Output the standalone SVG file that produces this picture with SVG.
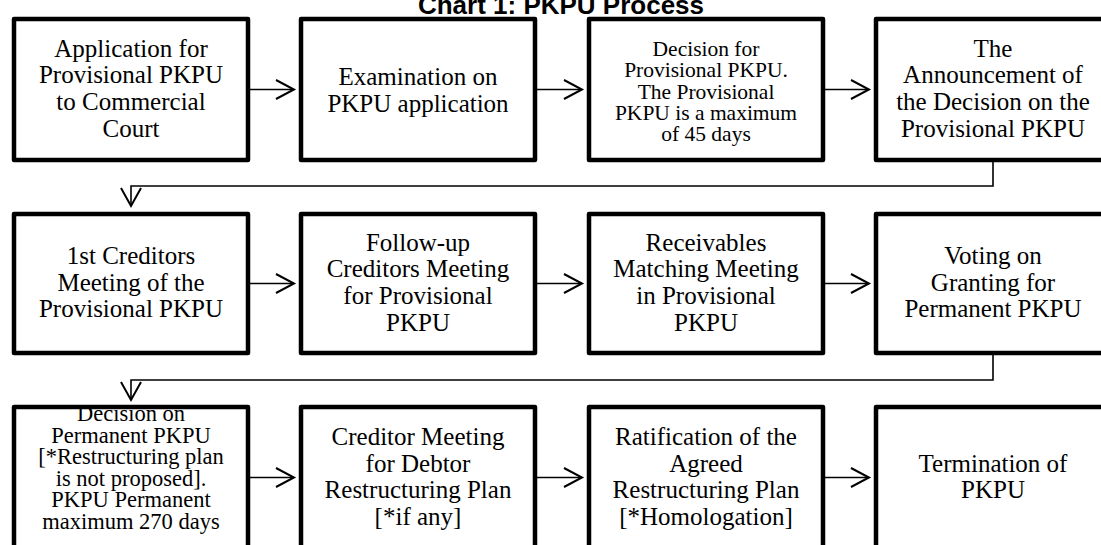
<svg xmlns="http://www.w3.org/2000/svg" width="1101" height="545" viewBox="0 0 1101 545">
<style>
.box{fill:none;stroke:#000;stroke-width:4.5;stroke-linejoin:round}
.t{font-family:"Liberation Serif","Times New Roman",serif;font-size:25px;fill:#000;text-anchor:middle}
.s{font-size:21.5px}
.m{font-size:22.5px}
.c{fill:none;stroke:#000;stroke-width:1.6}
.ah{fill:none;stroke:#000;stroke-width:2;stroke-linejoin:miter}
.title{font-family:"Liberation Sans",Arial,sans-serif;font-weight:bold;font-size:26px;text-anchor:middle;fill:#000}
</style>
<rect width="1101" height="545" fill="#fff"/>
<text class="title" x="561" y="14">Chart 1: PKPU Process</text>
<g id="connectors">
<path class="c" d="M250,89.5H292"/><path class="ah" d="M276,80L294,89.5L276,99"/>
<path class="c" d="M537,89.5H580"/><path class="ah" d="M564,80L582,89.5L564,99"/>
<path class="c" d="M825,89.5H867"/><path class="ah" d="M851,80L869,89.5L851,99"/>
<path class="c" d="M993,162V186H131V205"/><path class="ah" d="M121,188L131,206L141,188"/>
<path class="c" d="M250,283.5H292"/><path class="ah" d="M276,274L294,283.5L276,293"/>
<path class="c" d="M537,283.5H580"/><path class="ah" d="M564,274L582,283.5L564,293"/>
<path class="c" d="M825,283.5H867"/><path class="ah" d="M851,274L869,283.5L851,293"/>
<path class="c" d="M993,355V380H131V399"/><path class="ah" d="M121,382L131,400L141,382"/>
<path class="c" d="M250,477.5H292"/><path class="ah" d="M276,468L294,477.5L276,487"/>
<path class="c" d="M537,477.5H580"/><path class="ah" d="M564,468L582,477.5L564,487"/>
<path class="c" d="M825,477.5H867"/><path class="ah" d="M851,468L869,477.5L851,487"/>
</g>
<g id="n1">
<text class="t" x="131" y="56.5">Application for</text><text class="t" x="131" y="83.2">Provisional PKPU</text><text class="t" x="131" y="109.9">to Commercial</text><text class="t" x="131" y="136.6">Court</text><rect class="box" x="14" y="19" width="234" height="141"/></g>
<g id="n2">
<text class="t" x="418" y="85">Examination on</text><text class="t" x="418" y="111.5">PKPU application</text><rect class="box" x="301" y="19" width="234" height="141"/></g>
<g id="n3">
<text class="t s" x="706" y="56">Decision for</text><text class="t s" x="706" y="77.3">Provisional PKPU.</text><text class="t s" x="706" y="98.6">The Provisional</text><text class="t s" x="706" y="119.9">PKPU is a maximum</text><text class="t s" x="706" y="141.2">of 45 days</text><rect class="box" x="589" y="19" width="234" height="141"/></g>
<g id="n4">
<text class="t" x="993" y="56.5">The</text><text class="t" x="993" y="83.2">Announcement of</text><text class="t" x="993" y="109.9">the Decision on the</text><text class="t" x="993" y="136.6">Provisional PKPU</text><rect class="box" x="876" y="19" width="234" height="141"/></g>
<g id="n5">
<text class="t" x="131" y="263.8">1st Creditors</text><text class="t" x="131" y="290.5">Meeting of the</text><text class="t" x="131" y="317.2">Provisional PKPU</text><rect class="box" x="14" y="214" width="234" height="139"/></g>
<g id="n6">
<text class="t" x="418" y="250.5">Follow-up</text><text class="t" x="418" y="277.2">Creditors Meeting</text><text class="t" x="418" y="303.9">for Provisional</text><text class="t" x="418" y="330.6">PKPU</text><rect class="box" x="301" y="214" width="234" height="139"/></g>
<g id="n7">
<text class="t" x="706" y="250.5">Receivables</text><text class="t" x="706" y="277.2">Matching Meeting</text><text class="t" x="706" y="303.9">in Provisional</text><text class="t" x="706" y="330.6">PKPU</text><rect class="box" x="589" y="214" width="234" height="139"/></g>
<g id="n8">
<text class="t" x="993" y="263.8">Voting on</text><text class="t" x="993" y="290.5">Granting for</text><text class="t" x="993" y="317.2">Permanent PKPU</text><rect class="box" x="876" y="214" width="234" height="139"/></g>
<g id="n9">
<text class="t m" x="131" y="421">Decision on</text><text class="t m" x="131" y="442.5">Permanent PKPU</text><text class="t m" x="131" y="464">[*Restructuring plan</text><text class="t m" x="131" y="485.5">is not proposed].</text><text class="t m" x="131" y="507">PKPU Permanent</text><text class="t m" x="131" y="528.5">maximum 270 days</text><rect class="box" x="14" y="407" width="234" height="160"/></g>
<g id="n10">
<text class="t" x="418" y="445">Creditor Meeting</text><text class="t" x="418" y="471.7">for Debtor</text><text class="t" x="418" y="498.3">Restructuring Plan</text><text class="t" x="418" y="525">[*if any]</text><rect class="box" x="301" y="407" width="234" height="160"/></g>
<g id="n11">
<text class="t" x="706" y="445">Ratification of the</text><text class="t" x="706" y="471.7">Agreed</text><text class="t" x="706" y="498.3">Restructuring Plan</text><text class="t" x="706" y="525">[*Homologation]</text><rect class="box" x="589" y="407" width="234" height="160"/></g>
<g id="n12">
<text class="t" x="993" y="471.7">Termination of</text><text class="t" x="993" y="498.3">PKPU</text><rect class="box" x="876" y="407" width="234" height="160"/></g>
</svg>
